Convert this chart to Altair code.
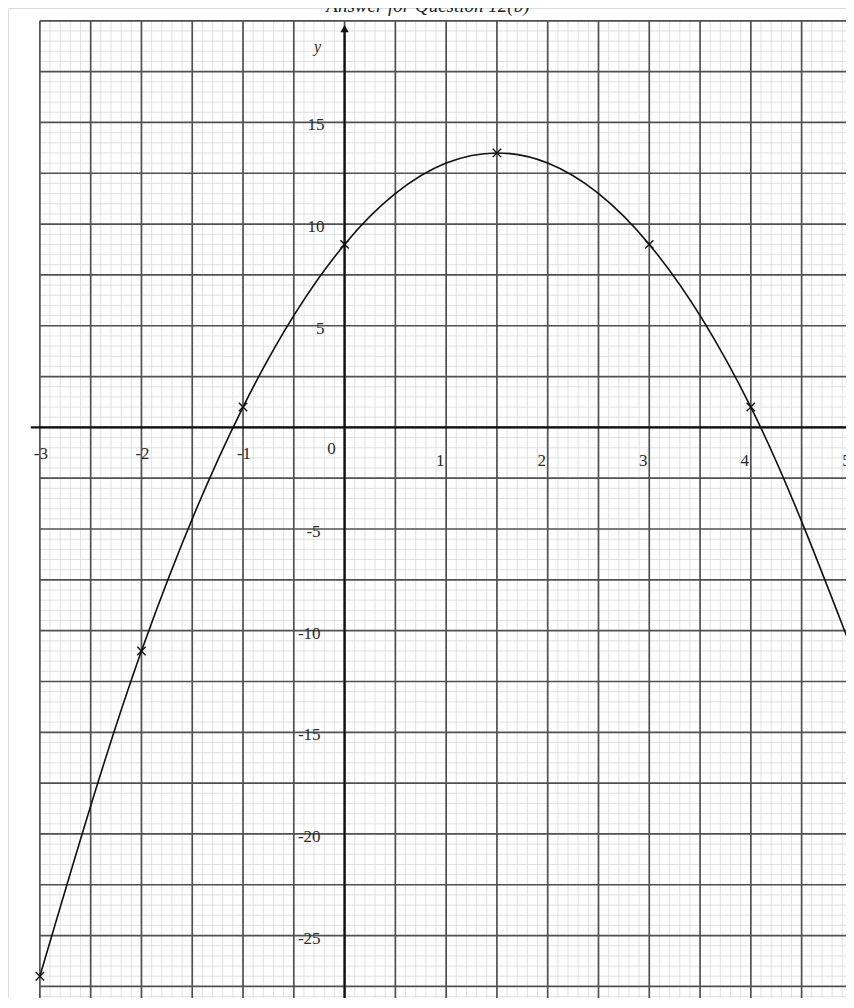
import altair as alt
import pandas as pd
import numpy as np

# ---- data ----
curve_x = [-3, -2, -1, 0, 1, 1.5, 2, 3, 4, 5]
curve_y = [-27, -11, 1, 9, 13, 13.5, 13, 9, 1, -11]
pts_x = [-3, -2, -1, 0, 1.5, 3, 4]
pts_y = [-27, -11, 1, 9, 13.5, 9, 1]
xlab_neg = [-3, -2, -1]
xlab_pos = [1, 2, 3, 4, 5]
ylab_pos = [15, 10, 5]
ylab_neg = [-5, -10, -15, -20, -25]
title_text = "Answer for Question 12(b)"

# ---- view window (graph-paper extents) ----
XMIN, XMAX = -3.314, 4.937
YMIN, YMAX = -28.07, 20.63
GX0, GY1 = -3.0, 20.0   # paper border left / top

W, H = 838, 990
xs = alt.Scale(domain=[XMIN, XMAX], nice=False, zero=False)
ys = alt.Scale(domain=[YMIN, YMAX], nice=False, zero=False)
X = lambda f: alt.X(f, type="quantitative", scale=xs, axis=None)
Y = lambda f: alt.Y(f, type="quantitative", scale=ys, axis=None)

# grid positions (paper rulings)
vx = np.round(np.arange(-3.0, 4.95, 0.1), 2)
hy = np.round(np.arange(20.0, -28.1, -0.5), 2)
v_major = [v for v in vx if abs(v * 2 - round(v * 2)) < 1e-6]
v_minor = [v for v in vx if v not in v_major]
h_major = [v for v in hy if abs(v / 2.5 - round(v / 2.5)) < 1e-6]
h_minor = [v for v in hy if v not in h_major]

vminor_df = pd.DataFrame({"x": v_minor, "y1": GY1, "y2": YMIN})
vmajor_df = pd.DataFrame({"x": v_major, "y1": GY1, "y2": YMIN})
hminor_df = pd.DataFrame({"y": h_minor, "x1": GX0, "x2": XMAX})
hmajor_df = pd.DataFrame({"y": h_major, "x1": GX0, "x2": XMAX})

def vlines(df, color, width):
    return alt.Chart(df).mark_rule(color=color, strokeWidth=width).encode(
        x=X("x"), y=Y("y1"), y2="y2")

def hlines(df, color, width):
    return alt.Chart(df).mark_rule(color=color, strokeWidth=width).encode(
        y=Y("y"), x=X("x1"), x2="x2")

grid = (vlines(vminor_df, "#d9d9d9", 0.8) + hlines(hminor_df, "#d9d9d9", 0.8)
        + vlines(vmajor_df, "#505050", 1.7) + hlines(hmajor_df, "#505050", 1.7))

# axes
xaxis = alt.Chart(pd.DataFrame({"y": [0], "x1": [-3.09], "x2": [XMAX]})).mark_rule(
    color="#111", strokeWidth=2.3).encode(y=Y("y"), x=X("x1"), x2="x2")
yaxis = alt.Chart(pd.DataFrame({"x": [0], "y1": [YMIN], "y2": [19.5]})).mark_rule(
    color="#111", strokeWidth=2.3).encode(x=X("x"), y=Y("y1"), y2="y2")
arrow = alt.Chart(pd.DataFrame({"x": [0], "y": [19.62]})).mark_point(
    shape="triangle-up", filled=True, color="#111", size=70, opacity=1).encode(
    x=X("x"), y=Y("y"))

# curve and plotted points
curve = alt.Chart(pd.DataFrame({"x": curve_x, "y": curve_y})).mark_line(
    color="#111", strokeWidth=1.6, interpolate="monotone", clip=True).encode(
    x=X("x"), y=Y("y"))
pts = alt.Chart(pd.DataFrame({"x": pts_x, "y": pts_y})).mark_point(
    shape="M-1,-1L1,1M-1,1L1,-1", filled=False, color="#111", size=70,
    strokeWidth=1.4, opacity=1).encode(x=X("x"), y=Y("y"))

font = "Liberation Serif"
def labels(df, xf, yf, **kw):
    return alt.Chart(df).mark_text(font=font, fontSize=17, color="#2a2a2a", **kw).encode(
        x=X(xf), y=Y(yf), text="t:N")

xneg = labels(pd.DataFrame({"x": xlab_neg, "y": 0, "t": [f"-{abs(v)}" for v in xlab_neg]}),
              "x", "y", dx=1, dy=27, baseline="middle", align="center")
xpos = labels(pd.DataFrame({"x": xlab_pos, "y": 0, "t": [str(v) for v in xlab_pos]}),
              "x", "y", dx=-6, dy=34, baseline="middle", align="center")
xzero = labels(pd.DataFrame({"x": [0], "y": [0], "t": ["0"]}),
               "x", "y", dx=-13, dy=22, baseline="middle", align="center")
ypos = labels(pd.DataFrame({"x": 0, "y": ylab_pos, "t": [str(v) for v in ylab_pos]}),
              "x", "y", dx=-20, dy=3, baseline="middle", align="right")
yneg = labels(pd.DataFrame({"x": 0, "y": ylab_neg, "t": [f"-{abs(v)}" for v in ylab_neg]}),
              "x", "y", dx=-24, dy=3, baseline="middle", align="right")
ylabel = alt.Chart(pd.DataFrame({"x": [0], "y": [18.7], "t": ["y"]})).mark_text(
    font=font, fontSize=16, fontStyle="italic", color="#2a2a2a", dx=-27).encode(
    x=X("x"), y=Y("y"), text="t:N")
title = alt.Chart(pd.DataFrame({"x": [0.82], "y": [20.43], "t": [title_text]})).mark_text(
    font=font, fontSize=19, fontStyle="italic", color="#222", baseline="alphabetic",
    align="center").encode(x=X("x"), y=Y("y"), text="t:N")

chart = alt.layer(grid, xaxis, yaxis, arrow, curve, pts, xneg, xpos, xzero,
                  ypos, yneg, ylabel, title).properties(
    width=W, height=H, padding=0,
    autosize=alt.AutoSizeParams(type="none"),
).configure_view(stroke="transparent", strokeWidth=0).configure(background="white")

chart.save("out.html", embed_options={"renderer": "svg", "actions": False})
